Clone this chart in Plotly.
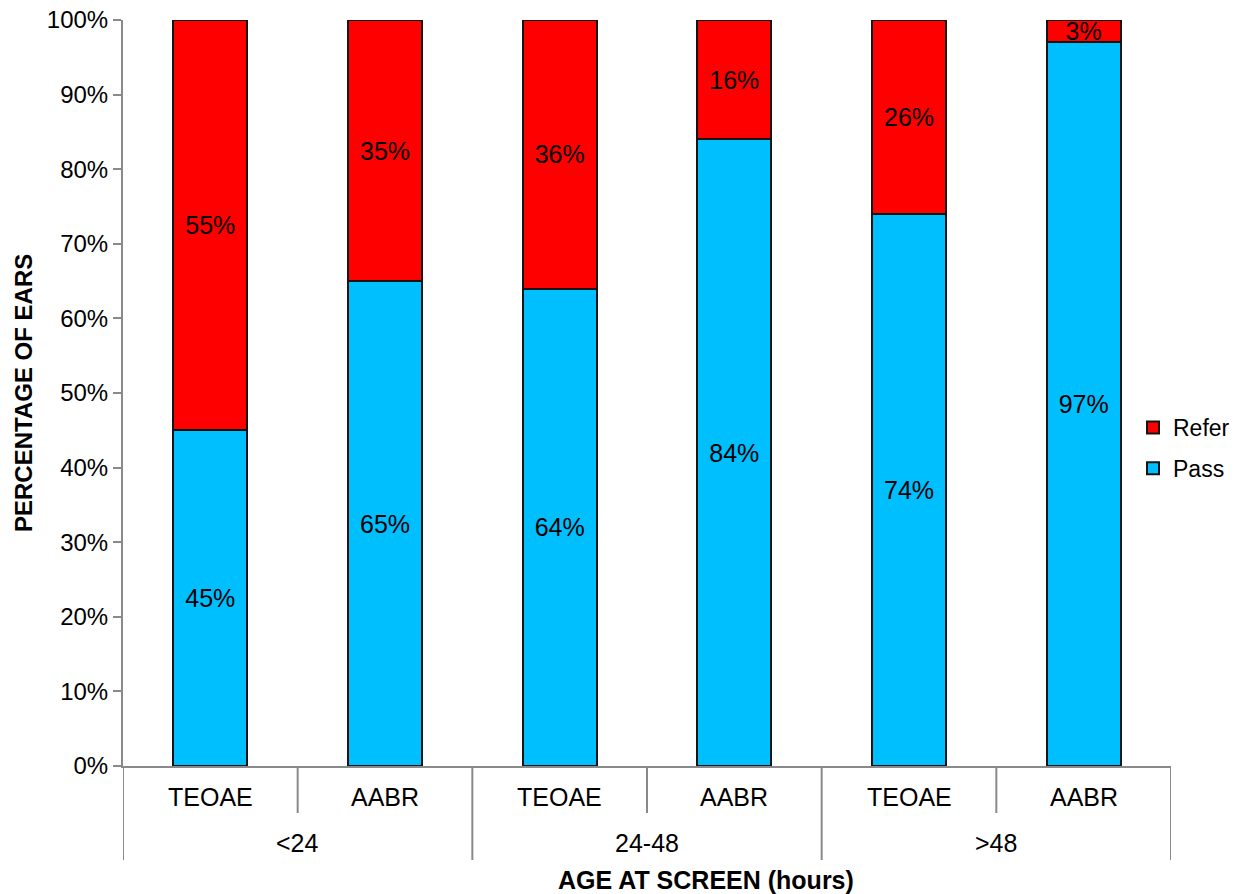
import plotly.graph_objects as go

# Screening results by age group and test
age_groups = ["<24", "24-48", ">48"]
tests = ["TEOAE", "AABR", "TEOAE", "AABR", "TEOAE", "AABR"]
pass_pct = [45, 65, 64, 84, 74, 97]
refer_pct = [55, 35, 36, 16, 26, 3]

PASS_COLOR = "#00BFFF"
REFER_COLOR = "#FF0000"
AXIS_GRAY = "#8a8a8a"
FONT = "Liberation Sans, Arial, sans-serif"

W, H = 1246, 894
ML, MR, MT, MB = 123, 75, 20, 128
PLOT_W = W - ML - MR
PLOT_H = H - MT - MB


def py(pixel_y):
    """Convert a pixel row to paper y for the plot area."""
    return (H - MB - pixel_y) / PLOT_H


def px(pixel_x):
    """Convert a pixel column to paper x for the plot area."""
    return (pixel_x - ML) / PLOT_W


positions = list(range(len(tests)))

fig = go.Figure()
fig.add_trace(go.Bar(
    x=positions, y=pass_pct, name="Pass", legendgroup="pass", legendrank=2,
    marker=dict(color=PASS_COLOR, line=dict(color="#141414", width=2)),
    text=[f"{v}%" for v in pass_pct], textposition="inside",
    insidetextanchor="middle", textfont=dict(color="black", size=25, family=FONT),
))
fig.add_trace(go.Bar(
    x=positions, y=refer_pct, name="Refer", legendgroup="refer", legendrank=1,
    marker=dict(color=REFER_COLOR, line=dict(color="#141414", width=2)),
    text=[f"{v}%" for v in refer_pct], textposition="inside",
    insidetextanchor="middle", textfont=dict(color="black", size=25, family=FONT),
))

annotations = []
shapes = []

# inner category labels (test type)
for i, t in enumerate(tests):
    annotations.append(dict(x=i, y=py(797), xref="x", yref="paper", text=t,
                            showarrow=False, xanchor="center", yanchor="middle",
                            font=dict(size=25)))
# outer category labels (age group)
for g, name in enumerate(age_groups):
    annotations.append(dict(x=2 * g + 0.5, y=py(843), xref="x", yref="paper", text=name,
                            showarrow=False, xanchor="center", yanchor="middle",
                            font=dict(size=25)))

# group boundaries (long) and test boundaries (short)
for b in [-0.5, 1.5, 3.5, 5.5]:
    shapes.append(dict(type="line", xref="x", yref="paper", x0=b, x1=b,
                       y0=0, y1=py(860), line=dict(color=AXIS_GRAY, width=2)))
for b in [0.5, 2.5, 4.5]:
    shapes.append(dict(type="line", xref="x", yref="paper", x0=b, x1=b,
                       y0=0, y1=py(813), line=dict(color=AXIS_GRAY, width=2)))

# axis titles
annotations.append(dict(x=px(706), y=py(880), xref="paper", yref="paper",
                        text="<b>AGE AT SCREEN (hours)</b>", showarrow=False,
                        xanchor="center", yanchor="middle", font=dict(size=25)))
annotations.append(dict(x=px(23), y=py(393), xref="paper", yref="paper",
                        text="<b>PERCENTAGE OF EARS</b>", showarrow=False, textangle=-90,
                        xanchor="center", yanchor="middle", font=dict(size=24)))

fig.update_layout(
    barmode="stack",
    bargap=0.576,
    width=W, height=H,
    margin=dict(l=ML, r=MR, t=MT, b=MB, autoexpand=False),
    paper_bgcolor="white", plot_bgcolor="white",
    font=dict(family=FONT, size=24, color="black"),
    uniformtext=dict(minsize=25, mode="show"),
    showlegend=True,
    legend=dict(
        x=px(1133), y=py(448), xanchor="left", yanchor="middle",
        traceorder="grouped", tracegroupgap=8, font=dict(size=23),
        bgcolor="rgba(0,0,0,0)", itemwidth=30,
    ),
    xaxis=dict(
        range=[-0.5, 5.5], showline=True, linecolor=AXIS_GRAY, linewidth=2,
        showticklabels=False, ticks="", showgrid=False, zeroline=False,
        fixedrange=True,
    ),
    yaxis=dict(
        range=[0, 100], dtick=10, ticksuffix="%",
        showline=True, linecolor=AXIS_GRAY, linewidth=2,
        ticks="outside", ticklen=8, tickcolor=AXIS_GRAY, tickwidth=2,
        showgrid=False, zeroline=False, automargin=False,
        tickfont=dict(size=24),
    ),
    annotations=annotations,
    shapes=shapes,
)

fig.write_html("out.html")
